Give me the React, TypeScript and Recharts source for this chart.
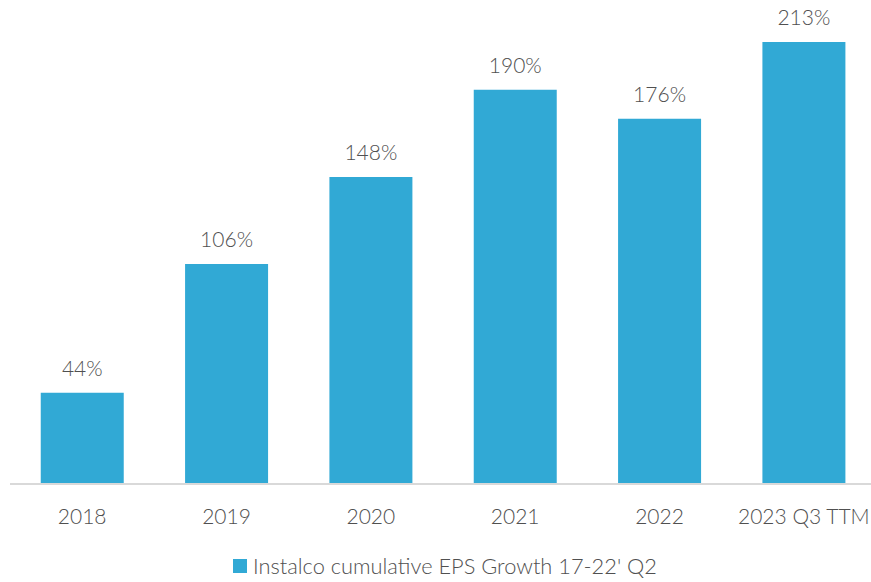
import { BarChart, Bar, XAxis, YAxis, LabelList, Legend } from "recharts";

const categories = ["2018", "2019", "2020", "2021", "2022", "2023 Q3 TTM"];
const epsGrowth = [44, 106, 148, 190, 176, 213];
const seriesName = "Instalco cumulative EPS Growth 17-22' Q2";

const data = categories.map((year, i) => ({ year, growth: epsGrowth[i] }));

const FONT = "Lato, 'Open Sans', sans-serif";
const TEXT = "#505050";
const BAR = "#31a9d5";

// simple legend: square + label, centred under the plot
function LegendBox() {
  return (
    <div
      style={{
        display: "flex",
        justifyContent: "center",
        alignItems: "center",
        gap: 6,
        paddingLeft: 4,
      }}
    >
      <span style={{ width: 14, height: 14, background: BAR, display: "inline-block" }} />
      <span style={{ color: TEXT, fontSize: 21.8, fontFamily: FONT, fontWeight: 300 }}>
        {seriesName}
      </span>
    </div>
  );
}

export default function App() {
  return (
    <div
      style={{
        position: "absolute",
        left: 0,
        top: 0,
        width: 871,
        height: 582,
        overflow: "hidden",
        background: "#fff",
        fontFamily: FONT,
      }}
    >
      <BarChart
        width={880}
        height={582}
        data={data}
        margin={{ top: 27.5, right: 4, bottom: 0, left: 10 }}
        barCategoryGap="21.3%"
      >
        <XAxis
          dataKey="year"
          axisLine={{ stroke: "#d9d9d9", strokeWidth: 2 }}
          tickLine={false}
          tickMargin={19}
          height={64}
          tick={{ fontSize: 21, fill: TEXT, fontFamily: FONT, fontWeight: 300 }}
        />
        <YAxis hide domain={[0, 220]} />
        <Legend
          verticalAlign="bottom"
          height={34}
          wrapperStyle={{ bottom: -4 }}
          content={() => <LegendBox />}
        />
        <Bar dataKey="growth" name={seriesName} fill={BAR} isAnimationActive={false}>
          <LabelList
            dataKey="growth"
            position="top"
            offset={17}
            formatter={(v) => `${v}%`}
            style={{ fontSize: 21, fill: TEXT, fontFamily: FONT, fontWeight: 300 }}
          />
        </Bar>
      </BarChart>
    </div>
  );
}
